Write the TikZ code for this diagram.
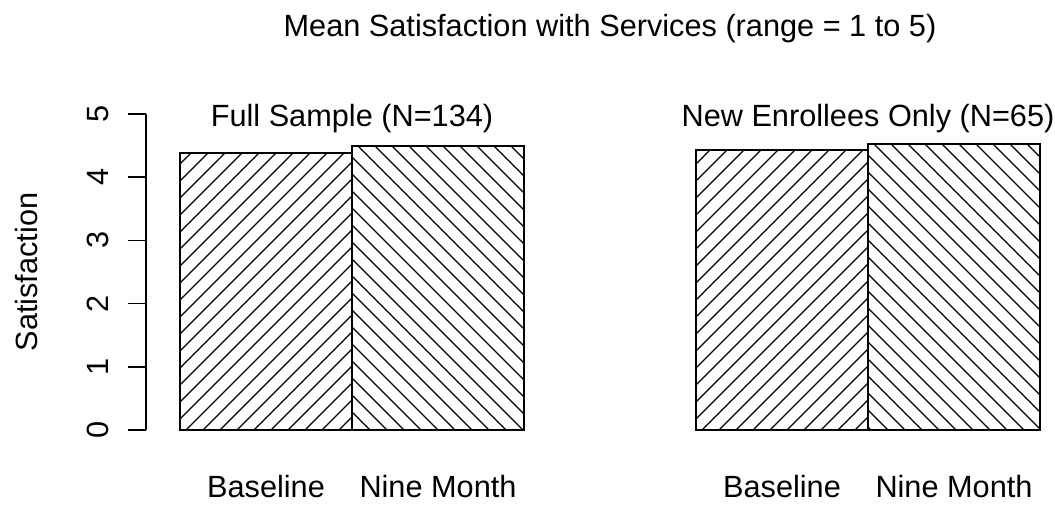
\documentclass[tikz,border=0pt]{standalone}
\usepackage{fontspec}
\setmainfont{Liberation Sans}
\newcommand{\hatchup}[4]{%
  \begin{scope}
    \clip (#1,#2) rectangle (#3,#4);
    \foreach \k in {0,...,30} { \draw[hatchline] ({#1-300+\k*17},#2) -- ++(320,320); }
  \end{scope}}
\newcommand{\hatchdown}[4]{%
  \begin{scope}
    \clip (#1,#2) rectangle (#3,#4);
    \foreach \k in {0,...,30} { \draw[hatchline] ({#1-300+\k*17},#4) -- ++(320,-320); }
  \end{scope}}
\begin{document}
\begin{tikzpicture}[x=1pt,y=1pt,
  hatchline/.style={line width=1.2pt},
  barbox/.style={line width=1.7pt},
  axisline/.style={line width=1.7pt},
  lbl/.style={inner sep=0pt, font=\fontsize{30.7}{36}\selectfont}]
\useasboundingbox (0,0) rectangle (1055,506);
% title
\node[lbl, anchor=base] (title) at (610,469) {Mean Satisfaction with Services (range = 1 to 5)};
% panel titles
\node[lbl, anchor=base] (t1) at (352,379) {Full Sample (N=134)};
\node[lbl, anchor=base] (t2) at (868,379) {New Enrollees Only (N=65)};
% y axis
\draw[axisline] (146,392) -- (146,76);
\foreach \v in {0,...,5} {
  \draw[axisline] (128,{76+\v*63.2}) -- (146,{76+\v*63.2});
  \node[lbl, rotate=90, anchor=base] (tick\v) at (108,{76+\v*63.2}) {\v};
}
\node[lbl, rotate=90, anchor=base] (ylab) at (37,234) {Satisfaction};
% bars
\hatchup{180}{76}{352}{353}
\draw[barbox] (180,76) rectangle (352,353);
\hatchdown{352}{76}{524}{360}
\draw[barbox] (352,76) rectangle (524,360);
\hatchup{696}{76}{868}{356}
\draw[barbox] (696,76) rectangle (868,356);
\hatchdown{868}{76}{1040}{362}
\draw[barbox] (868,76) rectangle (1040,362);
% x labels
\node[lbl, anchor=base] (b1) at (266,8) {Baseline};
\node[lbl, anchor=base] (n1) at (438,8) {Nine Month};
\node[lbl, anchor=base] (b2) at (782,8) {Baseline};
\node[lbl, anchor=base] (n2) at (954,8) {Nine Month};
\end{tikzpicture}
\end{document}
